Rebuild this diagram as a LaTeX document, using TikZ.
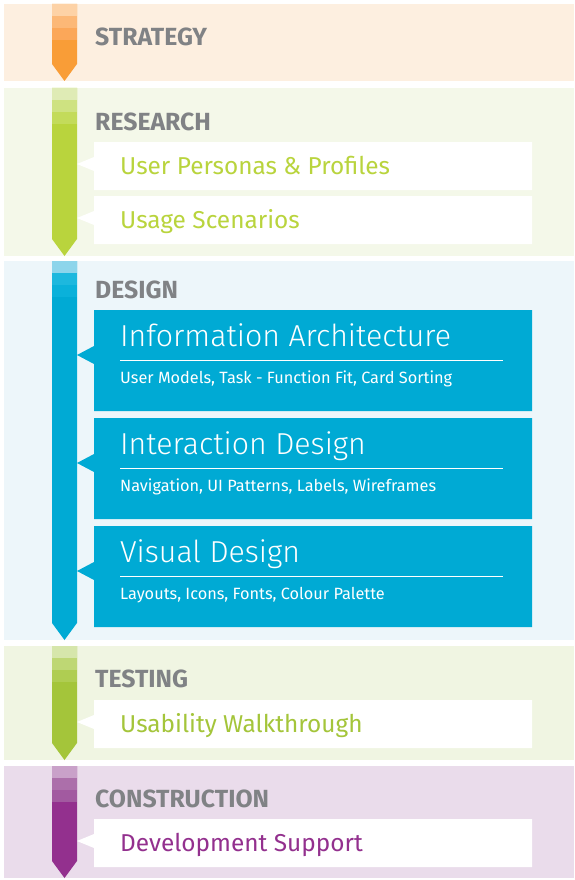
\documentclass[tikz,border=0pt]{standalone}
\usepackage{fontspec}
\setmainfont{Fira Sans}
\newfontfamily\lightfont{Fira Sans Light}
\definecolor{bandstrat}{HTML}{FDEFE0}
\definecolor{onestrat}{HTML}{FDD2A6}
\definecolor{twostrat}{HTML}{FCB877}
\definecolor{threestrat}{HTML}{FBA759}
\definecolor{mainstrat}{HTML}{F99D37}
\definecolor{bandres}{HTML}{F4F8E9}
\definecolor{oneres}{HTML}{DFEBB5}
\definecolor{twores}{HTML}{CEE281}
\definecolor{threeres}{HTML}{C3DB5A}
\definecolor{mainres}{HTML}{B9D43D}
\definecolor{banddes}{HTML}{EDF6FA}
\definecolor{onedes}{HTML}{8DD5EB}
\definecolor{twodes}{HTML}{1DB8DE}
\definecolor{threedes}{HTML}{0AB1DA}
\definecolor{maindes}{HTML}{00AAD4}
\definecolor{bandtest}{HTML}{F0F5E2}
\definecolor{onetest}{HTML}{D6E6AB}
\definecolor{twotest}{HTML}{BED774}
\definecolor{threetest}{HTML}{AFCD52}
\definecolor{maintest}{HTML}{A4C53A}
\definecolor{bandcons}{HTML}{EADCEB}
\definecolor{onecons}{HTML}{C9A1C9}
\definecolor{twocons}{HTML}{AC6FAA}
\definecolor{threecons}{HTML}{A25AA0}
\definecolor{maincons}{HTML}{93308E}
\definecolor{headgray}{HTML}{808285}
\begin{document}
\begin{tikzpicture}[x=1pt, y=-1pt,
    heading/.style={anchor=base west, inner sep=0pt, text=headgray,
      font=\bfseries\fontsize{24.8}{24.8}\selectfont},
    stage/.style={anchor=base west, inner sep=0pt,
      font=\fontsize{24.4}{24.4}\selectfont},
    title/.style={anchor=base west, inner sep=0pt, text=white,
      font=\lightfont\fontsize{30.3}{30.3}\selectfont},
    detail/.style={anchor=base west, inner sep=0pt, text=white,
      font=\fontsize{16.3}{16.3}\selectfont}]
    \useasboundingbox (0,0) rectangle (574,880);
    \foreach \t/\b/\c in {4/81/strat, 88/256/res, 261/640/des, 646/760/test, 766/878/cons} {
      \fill[band\c] (4,\t) rectangle (574,\b);
      \fill[main\c] (52,\t) -- (77,\t) -- (77,\b-17) -- (64.5,\b) -- (52,\b-17) -- cycle;
      \fill[one\c] (52,\t) rectangle (77,\t+12);
      \fill[two\c] (52,\t+12) rectangle (77,\t+24);
      \fill[three\c] (52,\t+24) rectangle (77,\t+36);
    }
    \foreach \t/\n in {142/164, 196/218, 700/722, 819/841}
      \fill[white] (94,\t) rectangle (532,\t+48) (94,\n-7) -- (77,\n) -- (94,\n+7) -- cycle;
    \foreach \t in {310, 418, 526} {
      \fill[maindes] (94,\t) rectangle (532,\t+101) (94,\t+36) -- (77,\t+45) -- (94,\t+54) -- cycle;
      \draw[white, line width=1.2pt] (120,\t+50.5) -- (503,\t+50.5);
    }
    \node[heading] (strategy) at (95,46) {STRATEGY};
    \node[heading] (research) at (95,131) {RESEARCH};
    \node[stage, text=mainres] (personas) at (120,174) {User Personas \& Profiles};
    \node[stage, text=mainres] (scenarios) at (120,228) {Usage Scenarios};
    \node[heading] (design) at (95,298) {DESIGN};
    \node[title] (infoarch) at (120,346) {Information Architecture};
    \node[detail] (infoarchsub) at (120,383) {User Models, Task - Function Fit, Card Sorting};
    \node[title] (interaction) at (120,454) {Interaction Design};
    \node[detail] (interactionsub) at (120,491) {Navigation, UI Patterns, Labels, Wireframes};
    \node[title] (visual) at (120,562) {Visual Design};
    \node[detail] (visualsub) at (120,599) {Layouts, Icons, Fonts, Colour Palette};
    \node[heading] (testing) at (95,687) {TESTING};
    \node[stage, text=maintest] (walkthrough) at (120,732) {Usability Walkthrough};
    \node[heading] (construction) at (95,807) {CONSTRUCTION};
    \node[stage, text=maincons] (support) at (120,851) {Development Support};
\end{tikzpicture}
\end{document}
